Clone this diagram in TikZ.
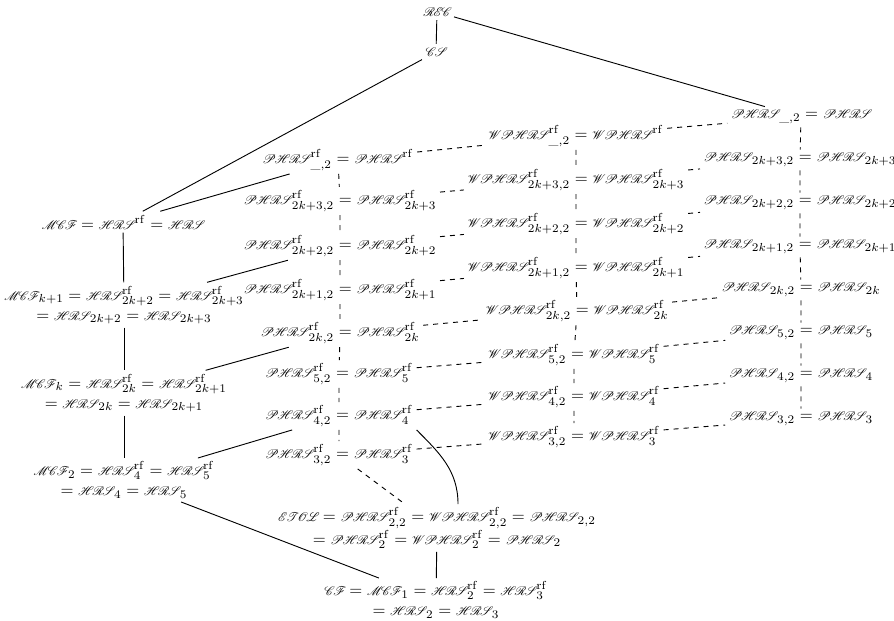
\documentclass[tikz,border=0pt]{standalone}
\usepackage{amsmath,amssymb}
\usetikzlibrary{calc}

% script letters, set a bit tighter than plain rsfs10
\DeclareFontFamily{U}{rsfsx}{\skewchar\font127 }
\DeclareFontShape{U}{rsfsx}{m}{n}{<-> s*[0.75] rsfs10}{}
\DeclareMathAlphabet{\mathcal}{U}{rsfsx}{m}{n}
\makeatletter
\newcommand{\sw}[1]{\sw@#1\relax{}}
\def\sw@#1{\ifx#1\relax\else\mathcal{#1}\mkern-1.6mu\expandafter\sw@\fi}
\makeatother

\newcommand{\rf}{\mathrm{rf}}
\newcommand{\cHRS}{\sw{HRS}}
\newcommand{\cPHRS}{\sw{PHRS}}
\newcommand{\cWPHRS}{\sw{WPHRS}}

\begin{document}
\begin{tikzpicture}[x=.6pt,y=-.6pt,
  lang/.style={inner sep=2pt},
  incl/.style={line width=.55pt},
  winc/.style={line width=.55pt,dashed}]
\path[use as bounding box] (0,0) rectangle (894,621);
% top
\node[lang] (rec) at (437,12) {$\sw{REC}$};
\node[lang] (cs) at (436,52) {$\sw{CS}$};
% left column
\node[lang] (mcf) at (123,222) {$\sw{MCF}=\cHRS^{\rf}=\cHRS$};
\node[lang,align=center] (mcfk1) at (124,305) {$\sw{MCF}_{k+1}=\cHRS^{\rf}_{2k+2}=\cHRS^{\rf}_{2k+3}$\\$=\cHRS_{2k+2}=\cHRS_{2k+3}$};
\node[lang,align=center] (mcfk) at (124,393) {$\sw{MCF}_{k}=\cHRS^{\rf}_{2k}=\cHRS^{\rf}_{2k+1}$\\$=\cHRS_{2k}=\cHRS_{2k+1}$};
\node[lang,align=center] (mcf2) at (124,480) {$\sw{MCF}_2=\cHRS^{\rf}_4=\cHRS^{\rf}_5$\\$=\cHRS_4=\cHRS_5$};
% PHRS^rf column
\node[lang] (rf0) at (338,160) {$\cPHRS^{\rf}_{\_,2}=\cPHRS^{\rf}$};
\node[lang] (rf2k3) at (340,201) {$\cPHRS^{\rf}_{2k+3,2}=\cPHRS^{\rf}_{2k+3}$};
\node[lang] (rf2k2) at (340,246) {$\cPHRS^{\rf}_{2k+2,2}=\cPHRS^{\rf}_{2k+2}$};
\node[lang] (rf2k1) at (340,290) {$\cPHRS^{\rf}_{2k+1,2}=\cPHRS^{\rf}_{2k+1}$};
\node[lang] (rf2k) at (340,333) {$\cPHRS^{\rf}_{2k,2}=\cPHRS^{\rf}_{2k}$};
\node[lang] (rf5) at (339,374) {$\cPHRS^{\rf}_{5,2}=\cPHRS^{\rf}_{5}$};
\node[lang] (rf4) at (339,416) {$\cPHRS^{\rf}_{4,2}=\cPHRS^{\rf}_{4}$};
\node[lang] (rf3) at (339,455) {$\cPHRS^{\rf}_{3,2}=\cPHRS^{\rf}_{3}$};
% WPHRS^rf column
\node[lang] (w0) at (576,136) {$\cWPHRS^{\rf}_{\_,2}=\cWPHRS^{\rf}$};
\node[lang] (w2k3) at (576,180) {$\cWPHRS^{\rf}_{2k+3,2}=\cWPHRS^{\rf}_{2k+3}$};
\node[lang] (w2k2) at (576,224) {$\cWPHRS^{\rf}_{2k+2,2}=\cWPHRS^{\rf}_{2k+2}$};
\node[lang] (w2k1) at (576,268) {$\cWPHRS^{\rf}_{2k+1,2}=\cWPHRS^{\rf}_{2k+1}$};
\node[lang] (w2k) at (577,311) {$\cWPHRS^{\rf}_{2k,2}=\cWPHRS^{\rf}_{2k}$};
\node[lang] (w5) at (574,355) {$\cWPHRS^{\rf}_{5,2}=\cWPHRS^{\rf}_{5}$};
\node[lang] (w4) at (574,397) {$\cWPHRS^{\rf}_{4,2}=\cWPHRS^{\rf}_{4}$};
\node[lang] (w3) at (574,437) {$\cWPHRS^{\rf}_{3,2}=\cWPHRS^{\rf}_{3}$};
% PHRS column
\node[lang] (p0) at (801,117) {$\cPHRS_{\_,2}=\cPHRS$};
\node[lang] (p2k3) at (800,160) {$\cPHRS_{2k+3,2}=\cPHRS_{2k+3}$};
\node[lang] (p2k2) at (800,203) {$\cPHRS_{2k+2,2}=\cPHRS_{2k+2}$};
\node[lang] (p2k1) at (800,247) {$\cPHRS_{2k+1,2}=\cPHRS_{2k+1}$};
\node[lang] (p2k) at (801,290) {$\cPHRS_{2k,2}=\cPHRS_{2k}$};
\node[lang] (p5) at (801,333) {$\cPHRS_{5,2}=\cPHRS_{5}$};
\node[lang] (p4) at (801,376) {$\cPHRS_{4,2}=\cPHRS_{4}$};
\node[lang] (p3) at (801,419) {$\cPHRS_{3,2}=\cPHRS_{3}$};
% bottom
\node[lang,align=center] (etol) at (437,528) {$\sw{ETOL}=\cPHRS^{\rf}_{2,2}=\cWPHRS^{\rf}_{2,2}=\cPHRS_{2,2}$\\$=\cPHRS^{\rf}_{2}=\cWPHRS^{\rf}_{2}=\cPHRS_{2}$};
\node[lang,align=center] (cf) at (436,600) {$\sw{CF}=\sw{MCF}_1=\cHRS^{\rf}_2=\cHRS^{\rf}_3$\\$=\cHRS_2=\cHRS_3$};

% solid inclusions
\draw[incl] (rec) -- (cs);
\draw[incl] (rec) -- (p0);
\draw[incl] (cs) -- (mcf);
\draw[incl] (mcf) -- (rf0);
\draw[incl] (mcf) -- (mcfk1);
\draw[incl] (mcfk1) -- (rf2k2);
\draw[incl] (mcfk1) -- (mcfk);
\draw[incl] (mcfk) -- (rf2k);
\draw[incl] (mcfk) -- (mcf2);
\draw[incl] (mcf2) -- (rf4);
\draw[incl] (mcf2) -- (cf);
\draw[incl] (etol) -- (cf);
\draw[incl] (rf4.south east) to[out=-45,in=90] ($(etol.north)+(21,0)$);
% dashed ones
\draw[winc] (rf0) -- (rf2k3) -- (rf2k2) -- (rf2k1) -- (rf2k) -- (rf5) -- (rf4) -- (rf3);
\draw[winc] (w0) -- (w2k3) -- (w2k2) -- (w2k1) -- (w2k) -- (w5) -- (w4) -- (w3);
\draw[winc] (p0) -- (p2k3) -- (p2k2) -- (p2k1) -- (p2k) -- (p5) -- (p4) -- (p3);
\draw[winc] (rf0) -- (w0);  \draw[winc] (w0) -- (p0);
\draw[winc] (rf2k3) -- (w2k3);  \draw[winc] (w2k3) -- (p2k3);
\draw[winc] (rf2k2) -- (w2k2);  \draw[winc] (w2k2) -- (p2k2);
\draw[winc] (rf2k1) -- (w2k1);  \draw[winc] (w2k1) -- (p2k1);
\draw[winc] (rf2k) -- (w2k);  \draw[winc] (w2k) -- (p2k);
\draw[winc] (rf5) -- (w5);  \draw[winc] (w5) -- (p5);
\draw[winc] (rf4) -- (w4);  \draw[winc] (w4) -- (p4);
\draw[winc] (rf3) -- (w3);  \draw[winc] (w3) -- (p3);
\draw[winc] (rf3) -- (etol);
\end{tikzpicture}
\end{document}
